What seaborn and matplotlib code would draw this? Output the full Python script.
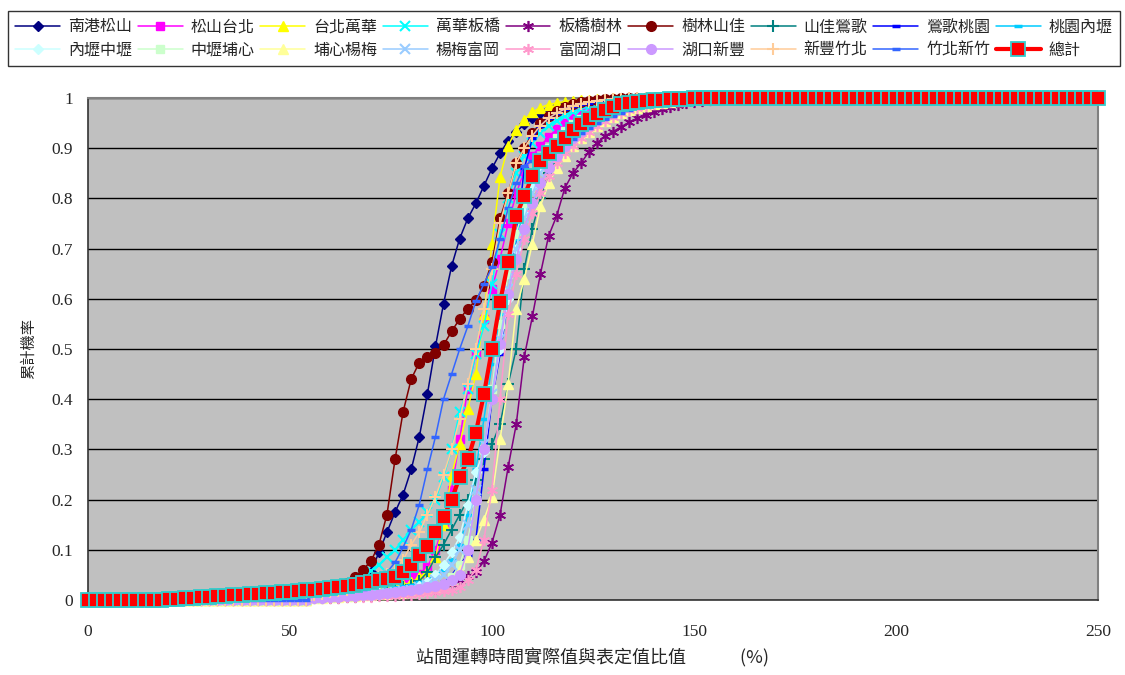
import numpy as np
import matplotlib
matplotlib.use("Agg")
import matplotlib.pyplot as plt
import seaborn as sns

# x bins: ratio of actual / scheduled running time (%), read every 2 %
ratio = np.arange(0, 252, 2)
LOW_N = 28  # bins below 56 %, where the segment curves sit at 0

# cumulative probability, from 56 % upward until each curve reaches 1
nangang_songshan = [0.005, 0.007, 0.01, 0.013, 0.02, 0.028, 0.04, 0.055, 0.095, 0.135, 0.175, 0.21,
                    0.26, 0.325, 0.41, 0.505, 0.59, 0.665, 0.72, 0.76, 0.79, 0.825, 0.86, 0.89, 0.915,
                    0.932, 0.948, 0.96, 0.97, 0.978, 0.984, 0.988, 0.991, 0.993, 0.995, 0.996, 0.997,
                    0.998, 0.999]
songshan_taipei = [0.02, 0.022, 0.024, 0.026, 0.028, 0.03, 0.032, 0.034, 0.036, 0.038, 0.04, 0.043,
                   0.047, 0.052, 0.065, 0.10, 0.15, 0.22, 0.32, 0.42, 0.49, 0.56, 0.62, 0.68, 0.75,
                   0.81, 0.855, 0.885, 0.905, 0.922, 0.938, 0.95, 0.961, 0.97, 0.977, 0.983, 0.988,
                   0.992, 0.995, 0.997, 0.998, 0.999]
taipei_wanhua = [0.005, 0.007, 0.009, 0.011, 0.013, 0.015, 0.017, 0.019, 0.021, 0.024, 0.027, 0.03,
                 0.035, 0.045, 0.058, 0.085, 0.15, 0.25, 0.31, 0.38, 0.45, 0.57, 0.71, 0.843, 0.905,
                 0.937, 0.957, 0.972, 0.981, 0.987, 0.99, 0.993, 0.995, 0.996, 0.997, 0.998, 0.999]
wanhua_banqiao = [0.012, 0.015, 0.018, 0.022, 0.028, 0.035, 0.045, 0.058, 0.07, 0.085, 0.10, 0.12,
                  0.14, 0.155, 0.175, 0.20, 0.245, 0.30, 0.375, 0.42, 0.49, 0.545, 0.63, 0.73, 0.80,
                  0.85, 0.885, 0.91, 0.93, 0.945, 0.955, 0.965, 0.972, 0.978, 0.983, 0.987, 0.99,
                  0.993, 0.995, 0.997, 0.998, 0.999]
banqiao_shulin = [0.003, 0.003, 0.004, 0.004, 0.005, 0.006, 0.007, 0.008, 0.009, 0.01, 0.011, 0.013,
                  0.015, 0.017, 0.019, 0.022, 0.026, 0.032, 0.04, 0.047, 0.055, 0.077, 0.114, 0.17,
                  0.265, 0.35, 0.485, 0.565, 0.65, 0.725, 0.765, 0.82, 0.85, 0.87, 0.893, 0.91, 0.925,
                  0.933, 0.943, 0.952, 0.96, 0.967, 0.973, 0.978, 0.983, 0.987, 0.99, 0.993, 0.995,
                  0.997, 0.998, 0.999]
shulin_shanjia = [0.01, 0.015, 0.02, 0.025, 0.033, 0.045, 0.06, 0.077, 0.11, 0.17, 0.28, 0.375, 0.44,
                  0.473, 0.485, 0.493, 0.508, 0.535, 0.56, 0.58, 0.597, 0.625, 0.673, 0.76, 0.81,
                  0.87, 0.90, 0.93, 0.95, 0.965, 0.975, 0.983, 0.988, 0.992, 0.995, 0.997, 0.998, 0.999]
shanjia_yingge = [0.005, 0.006, 0.008, 0.009, 0.011, 0.012, 0.014, 0.016, 0.018, 0.02, 0.022, 0.026,
                  0.03, 0.038, 0.055, 0.085, 0.11, 0.14, 0.17, 0.20, 0.24, 0.28, 0.31, 0.35, 0.43,
                  0.50, 0.66, 0.74, 0.80, 0.85, 0.88, 0.905, 0.925, 0.94, 0.952, 0.962, 0.97, 0.977,
                  0.983, 0.987, 0.99, 0.993, 0.995, 0.997, 0.998, 0.999]
yingge_taoyuan = [0.003, 0.003, 0.004, 0.004, 0.005, 0.005, 0.006, 0.007, 0.007, 0.008, 0.009, 0.01,
                  0.01, 0.013, 0.02, 0.027, 0.035, 0.05, 0.07, 0.09, 0.12, 0.26, 0.40, 0.49, 0.60,
                  0.72, 0.86, 0.92, 0.945, 0.96, 0.97, 0.978, 0.984, 0.988, 0.991, 0.994, 0.996,
                  0.998, 0.999]
taoyuan_neili = [0.01, 0.011, 0.012, 0.013, 0.014, 0.015, 0.016, 0.018, 0.02, 0.022, 0.025, 0.027,
                 0.03, 0.035, 0.04, 0.05, 0.06, 0.08, 0.11, 0.17, 0.26, 0.36, 0.47, 0.57, 0.65, 0.72,
                 0.78, 0.83, 0.865, 0.89, 0.91, 0.925, 0.94, 0.95, 0.96, 0.968, 0.975, 0.98, 0.985,
                 0.989, 0.992, 0.994, 0.996, 0.997, 0.998, 0.999]
neili_zhongli = [0.005, 0.006, 0.007, 0.008, 0.009, 0.01, 0.011, 0.012, 0.013, 0.014, 0.016, 0.018,
                 0.02, 0.027, 0.035, 0.05, 0.07, 0.095, 0.125, 0.19, 0.255, 0.295, 0.40, 0.50, 0.60,
                 0.70, 0.77, 0.82, 0.86, 0.89, 0.91, 0.93, 0.945, 0.955, 0.965, 0.972, 0.978, 0.983,
                 0.987, 0.99, 0.993, 0.995, 0.997, 0.998, 0.999]
zhongli_puxin = [0.004, 0.005, 0.006, 0.007, 0.008, 0.009, 0.01, 0.011, 0.012, 0.013, 0.014, 0.015,
                 0.016, 0.018, 0.02, 0.025, 0.03, 0.045, 0.07, 0.12, 0.20, 0.30, 0.42, 0.55, 0.65,
                 0.73, 0.79, 0.84, 0.875, 0.90, 0.92, 0.935, 0.948, 0.958, 0.967, 0.974, 0.98, 0.985,
                 0.989, 0.992, 0.995, 0.997, 0.998, 0.999]
puxin_yangmei = [0.003, 0.004, 0.005, 0.006, 0.007, 0.008, 0.009, 0.01, 0.011, 0.012, 0.013, 0.014,
                 0.016, 0.018, 0.02, 0.025, 0.03, 0.04, 0.06, 0.085, 0.12, 0.16, 0.205, 0.32, 0.43,
                 0.58, 0.64, 0.71, 0.785, 0.83, 0.86, 0.885, 0.905, 0.92, 0.933, 0.945, 0.955, 0.963,
                 0.97, 0.976, 0.981, 0.985, 0.988, 0.991, 0.993, 0.995, 0.997, 0.998, 0.999]
yangmei_fugang = [0.004, 0.005, 0.006, 0.007, 0.008, 0.009, 0.01, 0.011, 0.012, 0.013, 0.015, 0.017,
                  0.02, 0.025, 0.03, 0.04, 0.05, 0.07, 0.10, 0.15, 0.22, 0.31, 0.41, 0.52, 0.62, 0.70,
                  0.76, 0.81, 0.85, 0.88, 0.905, 0.925, 0.94, 0.952, 0.962, 0.97, 0.977, 0.983, 0.988,
                  0.992, 0.995, 0.997, 0.999]
fugang_hukou = [0.003, 0.003, 0.004, 0.004, 0.005, 0.005, 0.006, 0.006, 0.007, 0.007, 0.008, 0.009,
                0.01, 0.011, 0.013, 0.015, 0.017, 0.02, 0.025, 0.04, 0.06, 0.12, 0.22, 0.40, 0.57,
                0.65, 0.72, 0.77, 0.81, 0.845, 0.87, 0.89, 0.905, 0.92, 0.933, 0.945, 0.955, 0.963,
                0.97, 0.976, 0.981, 0.985, 0.988, 0.991, 0.993, 0.995, 0.997, 0.998, 0.999]
hukou_xinfeng = [0.003, 0.004, 0.005, 0.006, 0.007, 0.008, 0.009, 0.01, 0.012, 0.014, 0.016, 0.018,
                 0.02, 0.022, 0.025, 0.028, 0.032, 0.04, 0.05, 0.10, 0.20, 0.30, 0.40, 0.51, 0.61,
                 0.68, 0.74, 0.79, 0.83, 0.86, 0.885, 0.905, 0.92, 0.935, 0.947, 0.957, 0.966, 0.973,
                 0.979, 0.984, 0.988, 0.991, 0.994, 0.996, 0.998, 0.999]
xinfeng_zhubei = [0.01, 0.012, 0.015, 0.017, 0.02, 0.025, 0.03, 0.037, 0.045, 0.052, 0.06, 0.08,
                  0.11, 0.135, 0.17, 0.205, 0.25, 0.30, 0.36, 0.43, 0.50, 0.58, 0.66, 0.75, 0.81,
                  0.87, 0.90, 0.925, 0.945, 0.96, 0.97, 0.978, 0.984, 0.989, 0.992, 0.995, 0.997,
                  0.998, 0.999]
zhubei_hsinchu = [0.01, 0.011, 0.013, 0.015, 0.017, 0.019, 0.022, 0.03, 0.04, 0.055, 0.075, 0.105,
                  0.14, 0.19, 0.26, 0.325, 0.40, 0.45, 0.50, 0.545, 0.595, 0.63, 0.663, 0.72, 0.78,
                  0.83, 0.865, 0.875, 0.885, 0.895, 0.905, 0.912, 0.918, 0.93, 0.94, 0.95, 0.958,
                  0.965, 0.971, 0.977, 0.982, 0.986, 0.989, 0.992, 0.994, 0.996, 0.998, 0.999]
total_low = [0, 0, 0, 0, 0, 0, 0, 0, 0, 0, 0.001, 0.002, 0.003, 0.004, 0.005, 0.006, 0.007, 0.008,
             0.009, 0.01, 0.011, 0.012, 0.013, 0.014, 0.015, 0.016, 0.018, 0.019]
total = [0.02, 0.022, 0.024, 0.026, 0.028, 0.03, 0.033, 0.036, 0.039, 0.042, 0.046, 0.056, 0.07,
         0.09, 0.108, 0.135, 0.165, 0.20, 0.245, 0.28, 0.333, 0.41, 0.50, 0.594, 0.673, 0.765,
         0.805, 0.845, 0.875, 0.89, 0.905, 0.92, 0.936, 0.948, 0.958, 0.968, 0.977, 0.983, 0.988,
         0.991, 0.993, 0.995, 0.996, 0.997, 0.998, 0.998, 0.999]

segment_names = ["南港松山", "松山台北", "台北萬華", "萬華板橋", "板橋樹林", "樹林山佳",
                 "山佳鶯歌", "鶯歌桃園", "桃園內壢", "內壢中壢", "中壢埔心", "埔心楊梅",
                 "楊梅富岡", "富岡湖口", "湖口新豐", "新豐竹北", "竹北新竹"]
segment_values = [nangang_songshan, songshan_taipei, taipei_wanhua, wanhua_banqiao, banqiao_shulin,
                  shulin_shanjia, shanjia_yingge, yingge_taoyuan, taoyuan_neili, neili_zhongli,
                  zhongli_puxin, puxin_yangmei, yangmei_fugang, fugang_hukou, hukou_xinfeng,
                  xinfeng_zhubei, zhubei_hsinchu]

# (colour, marker, marker size, marker edge width)
ASTER = (6, 2, 0)
styles = [
    ("#000080", "D", 5.5, 1.0), ("#FF00FF", "s", 5.5, 1.0), ("#FFFF00", "^", 7, 1.0),
    ("#00FFFF", "x", 6.5, 1.5), ("#800080", ASTER, 8, 1.2), ("#800000", "o", 7, 1.0),
    ("#008080", "+", 8, 1.5), ("#0000FF", "_", 6, 2.5), ("#00CCFF", "_", 6, 2.5),
    ("#CCFFFF", "D", 5.5, 1.0), ("#CCFFCC", "s", 5.5, 1.0), ("#FFFF99", "^", 7, 1.0),
    ("#99CCFF", "x", 6.5, 1.5), ("#FF99CC", ASTER, 8, 1.2), ("#CC99FF", "o", 7, 1.0),
    ("#FFCC99", "+", 8, 1.5), ("#3366FF", "_", 6, 2.5),
]


def full_curve(mid, low=None):
    low = [0.0] * LOW_N if low is None else low
    return low + mid + [1.0] * (len(ratio) - LOW_N - len(mid))


sns.set_style("white")
plt.rcParams["font.family"] = ["Liberation Serif", "Noto Sans CJK TC", "DejaVu Sans"]
cjk = ["Noto Sans CJK TC", "DejaVu Sans"]

fig = plt.figure(figsize=(11.25, 6.75), dpi=100)
ax = fig.add_axes([88 / 1125, 75 / 675, 1010 / 1125, 502 / 675])
ax.set_facecolor("#C0C0C0")

for name, vals, (c, m, ms, mew) in zip(segment_names, segment_values, styles):
    sns.lineplot(x=ratio, y=full_curve(vals), ax=ax, color=c, lw=1.1, marker=m,
                 markersize=ms, markeredgecolor=c, markerfacecolor=c,
                 markeredgewidth=mew, label=name, legend=False, clip_on=False, zorder=3)

sns.lineplot(x=ratio, y=full_curve(total, total_low), ax=ax, color="#FF0000", lw=3,
             marker="s", markersize=10, markerfacecolor="#FF0000", markeredgecolor="#33CCCC",
             markeredgewidth=1.3, label="總計", legend=False, clip_on=False, zorder=4)

ax.set_xlim(0, 250)
ax.set_ylim(0, 1)
ax.set_xticks(np.arange(0, 251, 50))
ax.set_yticks(np.arange(0, 1.01, 0.1))
ax.set_yticklabels([f"{v:g}" for v in np.round(np.arange(0, 1.01, 0.1), 1)])
ax.yaxis.grid(True, color="black", lw=1)
ax.set_axisbelow(True)
ax.tick_params(axis="x", direction="in", length=6, width=1, color="black", pad=17, labelsize=12.5)
ax.tick_params(axis="y", length=0, pad=11, labelsize=12.5)
for side in ["left", "bottom"]:
    ax.spines[side].set_color("#333333")
    ax.spines[side].set_linewidth(1.2)
for side in ["top", "right"]:
    ax.spines[side].set_color("#808080")
    ax.spines[side].set_linewidth(1.5)

ax.set_xlabel("站間運轉時間實際值與表定值比值　　　(%)", family=cjk, fontsize=13, labelpad=6)
ax.set_ylabel("累計機率", family=cjk, fontsize=11, labelpad=10)

handles, labels = ax.get_legend_handles_labels()
order = [i for pair in zip(range(9), range(9, 18)) for i in pair]
leg = fig.legend([handles[i] for i in order], [labels[i] for i in order], ncol=9,
                 loc="lower left", bbox_to_anchor=(8 / 1125, 1 - 66 / 675, 1112 / 1125, 58 / 675),
                 mode="expand", frameon=True, fancybox=False, edgecolor="black",
                 prop={"family": cjk, "size": 11.5}, handlelength=2.8, handletextpad=0.5,
                 columnspacing=0.5, borderaxespad=0, borderpad=0.45, labelspacing=0.4)
leg.get_frame().set_linewidth(1)

fig.savefig("out.png", dpi=100)
